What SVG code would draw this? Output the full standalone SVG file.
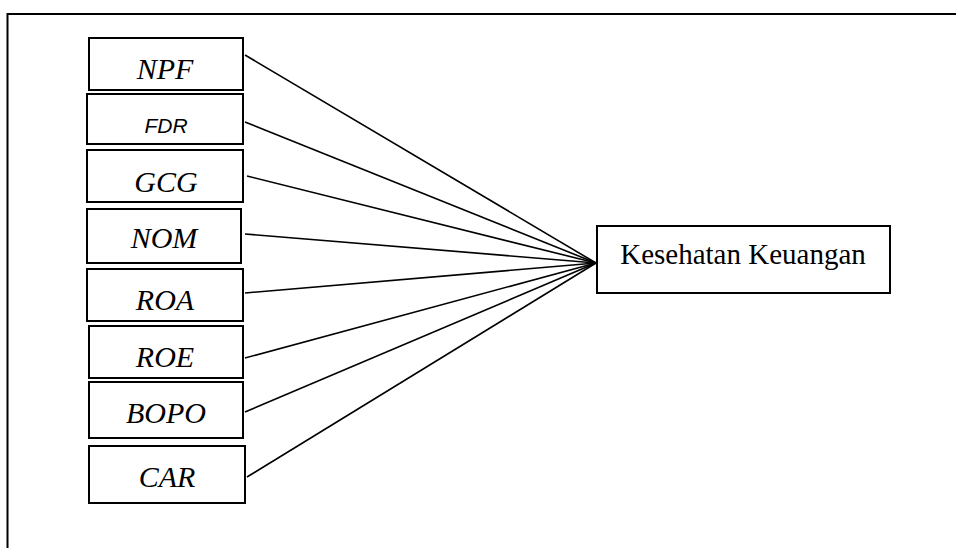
<svg xmlns="http://www.w3.org/2000/svg" width="956" height="548" viewBox="0 0 956 548">
<style>
.box{fill:#fff;stroke:#000;stroke-width:2}
.t{font-family:"Liberation Serif","Times New Roman",serif;font-size:30px;font-style:italic;text-anchor:middle;fill:#000}
.s{font-family:"Liberation Sans",Arial,sans-serif;font-size:21px;font-style:italic;text-anchor:middle;fill:#000}
.k{font-family:"Liberation Serif","Times New Roman",serif;font-size:29px;text-anchor:middle;fill:#000}
.c{stroke:#000;stroke-width:1.6;fill:none}
</style>
<rect width="956" height="548" fill="#fff"/>
<g id="frame"><polyline points="7.5,548 7.5,14 956,14" fill="none" stroke="#000" stroke-width="2"/></g>
<g id="connectors">
<line class="c" x1="245" y1="55" x2="596" y2="263"/>
<line class="c" x1="245" y1="122" x2="596" y2="263"/>
<line class="c" x1="247" y1="176" x2="596" y2="263"/>
<line class="c" x1="245" y1="234" x2="596" y2="263"/>
<line class="c" x1="245" y1="293" x2="596" y2="263"/>
<line class="c" x1="245" y1="358" x2="596" y2="263"/>
<line class="c" x1="245" y1="412" x2="596" y2="263"/>
<line class="c" x1="247" y1="477" x2="596" y2="263"/>
<line class="c" x1="596" y1="263" x2="601" y2="265"/>
</g>
<g id="npf"><rect class="box" x="89" y="38" width="154" height="52"/><text class="t" x="165" y="79">NPF</text></g>
<g id="fdr"><rect class="box" x="87" y="94" width="156" height="50"/><text class="s" x="166" y="133">FDR</text></g>
<g id="gcg"><rect class="box" x="87" y="150" width="156" height="52"/><text class="t" x="166" y="192">GCG</text></g>
<g id="nom"><rect class="box" x="87" y="209" width="154" height="54"/><text class="t" x="164" y="248">NOM</text></g>
<g id="roa"><rect class="box" x="87" y="269" width="156" height="52"/><text class="t" x="165" y="310">ROA</text></g>
<g id="roe"><rect class="box" x="89" y="326" width="154" height="52"/><text class="t" x="165" y="367">ROE</text></g>
<g id="bopo"><rect class="box" x="89" y="382" width="154" height="56"/><text class="t" x="166" y="423">BOPO</text></g>
<g id="car"><rect class="box" x="89" y="446" width="156" height="57"/><text class="t" x="167" y="487">CAR</text></g>
<g id="kesehatan"><rect class="box" x="597" y="226" width="293" height="67"/><text class="k" x="743" y="264">Kesehatan Keuangan</text></g>
</svg>
